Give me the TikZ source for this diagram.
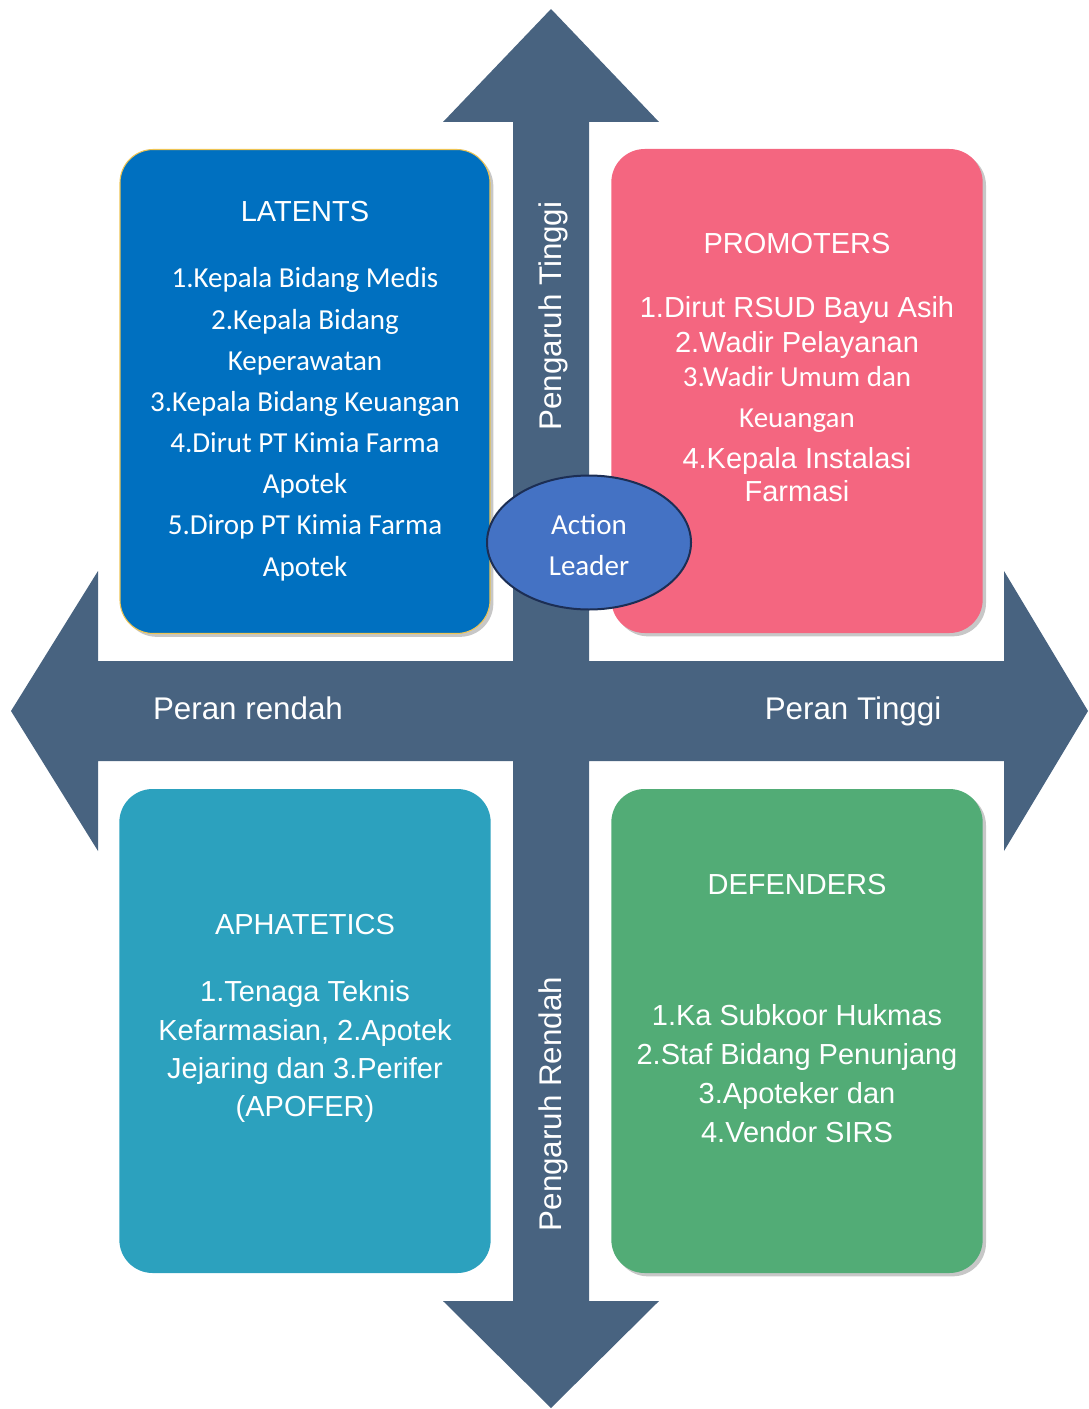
\documentclass[tikz,border=0pt]{standalone}
\usepackage{fontspec}
\setmainfont{Liberation Sans}
\newfontfamily\calibrifont{Carlito}
\usepackage{tikz}
\usetikzlibrary{positioning}
\usetikzlibrary{shapes.geometric}
\usetikzlibrary{shadows}
\definecolor{arrowslate}{RGB}{72,99,128}
\definecolor{latentblue}{RGB}{0,112,192}
\definecolor{latentedge}{RGB}{238,196,84}
\definecolor{promopink}{RGB}{244,102,128}
\definecolor{apatteal}{RGB}{44,161,190}
\definecolor{defgreen}{RGB}{82,172,118}
\definecolor{leaderblue}{RGB}{68,114,196}
\definecolor{leaderedge}{RGB}{28,46,84}

\begin{document}
\begin{tikzpicture}[x=0.75pt,y=-0.75pt,
  quad box/.style={rectangle,rounded corners=25pt,minimum width=278.5pt,minimum height=363pt,inner sep=0pt},
  box shadow/.style={drop shadow={shadow xshift=2.5pt,shadow yshift=-2.5pt,fill=black,opacity=0.22}},
  title text/.style={text=white,font=\fontsize{21.75}{26}\selectfont,anchor=base,inner sep=0pt},
  list text/.style={text=white,font=\fontsize{21.75}{26}\selectfont,anchor=base,inner sep=0pt},
  list cal/.style={text=white,font=\calibrifont\fontsize{21.75}{26}\selectfont,anchor=base,inner sep=0pt},
  axis label/.style={text=white,font=\fontsize{23.5}{28}\selectfont,anchor=base,inner sep=0pt}]

\useasboundingbox (0,0) rectangle (1088,1409);

% cross of four arrows
\fill[arrowslate] (551,9) -- (659,122) -- (589,122) -- (589,661) -- (1004,661) -- (1004,571)
  -- (1088,711) -- (1004,851) -- (1004,761) -- (589,761) -- (589,1301) -- (659,1301)
  -- (551,1408) -- (443,1301) -- (513,1301) -- (513,761) -- (98,761) -- (98,851)
  -- (11,711) -- (98,571) -- (98,661) -- (513,661) -- (513,122) -- (443,122) -- cycle;

% quadrants
\node[quad box,box shadow,fill=latentblue,draw=latentedge,line width=0.8pt,minimum width=277.5pt] (latents) at (305,391.5) {};
\node[quad box,box shadow,fill=promopink] (promoters) at (797,391) {};
\node[quad box,fill=apatteal] (aphatetics) at (305,1031) {};
\node[quad box,box shadow,fill=defgreen] (defenders) at (797,1031) {};

% axis labels
\node[axis label,rotate=90] (pengaruh tinggi) at (561,316) {Pengaruh Tinggi};
\node[axis label,rotate=90] (pengaruh rendah) at (561,1104) {Pengaruh Rendah};
\node[axis label] (peran rendah) at (248,719) {Peran rendah};
\node[axis label] (peran tinggi) at (853,719) {Peran Tinggi};

% latents
\node[title text] (latents title) at (305,221) {LATENTS};
\foreach \txt/\yy [count=\i] in {1.Kepala Bidang Medis/287, 2.Kepala Bidang/329, Keperawatan/370,
    3.Kepala Bidang Keuangan/411, 4.Dirut PT Kimia Farma/452, Apotek/493,
    5.Dirop PT Kimia Farma/534, Apotek/576}
  \node[list cal] (latents-\i) at (305,\yy) {\txt};

% promoters
\node[title text] (promoters title) at (797,253) {PROMOTERS};
\node[list text] (promoters-1) at (797,317) {1.Dirut RSUD Bayu Asih};
\node[list text] (promoters-2) at (797,352) {2.Wadir Pelayanan};
\node[list cal] (promoters-3) at (797,386) {3.Wadir Umum dan};
\node[list cal] (promoters-4) at (797,427) {Keuangan};
\node[list text] (promoters-5) at (797,468) {4.Kepala Instalasi};
\node[list text] (promoters-6) at (797,501) {Farmasi};

% aphatetics
\node[title text] (aphatetics title) at (305,934) {APHATETICS};
\foreach \txt/\yy [count=\i] in {1.Tenaga Teknis/1001, {Kefarmasian, 2.Apotek}/1040,
    Jejaring dan 3.Perifer/1078, (APOFER)/1116}
  \node[list text] (aphatetics-\i) at (305,\yy) {\txt};

% defenders
\node[title text] (defenders title) at (797,894) {DEFENDERS};
\foreach \txt/\yy [count=\i] in {1.Ka Subkoor Hukmas/1025, 2.Staf Bidang Penunjang/1064,
    3.Apoteker dan/1103, 4.Vendor SIRS/1142}
  \node[list text] (defenders-\i) at (797,\yy) {\txt};

% action leader
\node[ellipse,fill=leaderblue,draw=leaderedge,line width=1.5pt,minimum width=153pt,minimum height=100.5pt,inner sep=0pt] (leader) at (589,542.5) {};
\node[list cal] (leader-1) at (589,534) {Action};
\node[list cal] (leader-2) at (589,575) {Leader};
\end{tikzpicture}
\end{document}
